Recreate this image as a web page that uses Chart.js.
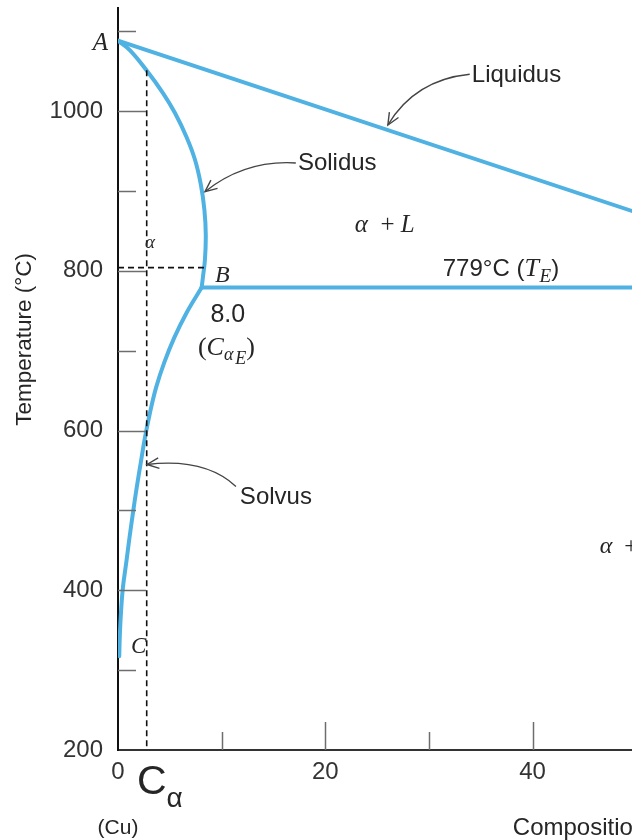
<!DOCTYPE html>
<html><head><meta charset="utf-8">
<script src="https://cdn.jsdelivr.net/npm/chart.js@4/dist/chart.umd.min.js"></script>
<style>html,body{margin:0;padding:0;background:#fff;overflow:hidden}canvas{display:block}</style>
</head><body>
<canvas id="c" width="632" height="840"></canvas>
<script>
// ---- data (composition wt% Ag, temperature °C) ----
const liquidusComp = [0, 71.9];
const liquidusTemp = [1088, 779];
const solidusComp = [0, 1.16, 2.75, 4.34, 5.50, 6.61, 7.43, 8.00, 8.34, 8.47, 8.39, 8.20, 8.07];
const solidusTemp = [1088, 1076, 1051, 1022.5, 997.5, 967.5, 939, 907.5, 876, 845, 814, 792.5, 779];
const solvusComp = [8.07, 6.62, 5.42, 4.46, 3.68, 3.09, 2.60, 2.20, 1.81, 1.45, 1.11, 0.80, 0.48, 0.29, 0.17, 0.12];
const solvusTemp = [779, 747.5, 716, 685, 654, 622.5, 591, 560, 529, 497.5, 466, 435, 404, 372.5, 341, 317.5];
const eutecticComp = [8.07, 71.9];
const eutecticTemp = [779, 779];
const dashVComp = [2.77, 2.77];
const dashVTemp = [1051, 200];
const dashHComp = [0, 8.45];
const dashHTemp = [804, 804];
const xMin = 0, xMax = 49.6, xStep = 10;
const yMin = 200, yMax = 1129, yStep = 100;
const xLabelValues = [0, 20, 40];
const yLabelValues = [200, 400, 600, 800, 1000];
// annotation arrows: [start, control, tip] in data units
const liquidusArrow = [[33.94, 1046], [28.64, 1039], [26.04, 982.5]];
const solidusArrow = [[17.16, 935], [12.25, 939], [8.39, 899]];
const solvusArrow = [[11.38, 530], [8.39, 566], [2.80, 557.5]];

const pts = (xs, ys) => xs.map((v, i) => ({x: v, y: ys[i]}));
const BLUE = '#4FB2E3';
const SERIF_I = s => 'italic ' + s + 'px "Liberation Serif"';
const SERIF = s => s + 'px "Liberation Serif"';
const SANS = s => s + 'px "Liberation Sans"';
const TXT = '#262626';

function runs(ctx, x, y, parts) {
  ctx.textAlign = 'left'; ctx.textBaseline = 'alphabetic';
  for (const [t, f, dy] of parts) {
    ctx.font = f; ctx.fillText(t, x, y + (dy || 0)); x += ctx.measureText(t).width;
  }
}

const annot = {
  id: 'annot',
  afterDatasetsDraw(chart) {
    const {ctx, chartArea: ca, scales: {x, y}} = chart;
    const P = (c, t) => [x.getPixelForValue(c), y.getPixelForValue(t)];
    ctx.save();
    // inward tick marks
    ctx.strokeStyle = '#6d6d6d'; ctx.lineWidth = 1.5;
    y.ticks.forEach(t => {
      if (t.value === yMin) return;
      const py = Math.round(y.getPixelForValue(t.value)) + 0.5;
      const len = yLabelValues.includes(t.value) ? 28 : 18;
      ctx.beginPath(); ctx.moveTo(ca.left, py); ctx.lineTo(ca.left + len, py); ctx.stroke();
    });
    x.ticks.forEach(t => {
      if (t.value === xMin) return;
      const pxv = Math.round(x.getPixelForValue(t.value)) + 0.5;
      const len = xLabelValues.includes(t.value) ? 28 : 18;
      ctx.beginPath(); ctx.moveTo(pxv, ca.bottom); ctx.lineTo(pxv, ca.bottom - len); ctx.stroke();
    });
    // arrows
    ctx.strokeStyle = '#444'; ctx.lineWidth = 1.4;
    [liquidusArrow, solidusArrow, solvusArrow].forEach(a => {
      const [s, c, e] = a.map(p => P(p[0], p[1]));
      ctx.beginPath(); ctx.moveTo(s[0], s[1]); ctx.quadraticCurveTo(c[0], c[1], e[0], e[1]); ctx.stroke();
      const ang = Math.atan2(e[1] - c[1], e[0] - c[0]);
      const L = 13, w = 0.42;
      ctx.beginPath();
      ctx.moveTo(e[0] - L * Math.cos(ang - w), e[1] - L * Math.sin(ang - w));
      ctx.lineTo(e[0], e[1]);
      ctx.lineTo(e[0] - L * Math.cos(ang + w), e[1] - L * Math.sin(ang + w));
      ctx.stroke();
    });
    ctx.fillStyle = TXT;
    // simple labels
    let p;
    ctx.textBaseline = 'middle';
    p = P(-0.96, 1085); ctx.textAlign = 'right'; ctx.font = SERIF_I(25); ctx.fillText('A', p[0], p[1]);
    ctx.textAlign = 'center';
    p = P(3.09, 835); ctx.font = SERIF_I(19); ctx.fillText('α', p[0], p[1]);
    p = P(2.0, 329); ctx.font = SERIF_I(23); ctx.fillText('C', p[0], p[1]);
    p = P(10.6, 745); ctx.font = SANS(25); ctx.fillText('8.0', p[0], p[1]);
    ctx.textAlign = 'left';
    p = P(9.35, 794); ctx.font = SERIF_I(24); ctx.fillText('B', p[0], p[1]);
    p = P(34.14, 1045); ctx.font = SANS(24); ctx.fillText('Liquidus', p[0], p[1]);
    p = P(17.36, 935); ctx.font = SANS(24); ctx.fillText('Solidus', p[0], p[1]);
    p = P(11.76, 516); ctx.font = SANS(24); ctx.fillText('Solvus', p[0], p[1]);
    // rich labels
    p = P(7.71, 695);
    runs(ctx, p[0], p[1], [['(', SERIF(26)], ['C', SERIF_I(26)], ['α', SERIF_I(18), 5], [' ', SERIF(8)], ['E', SERIF_I(18), 9], [')', SERIF(26)]]);
    p = P(22.85, 857.5);
    runs(ctx, p[0], p[1] + 7, [['α', SERIF_I(25)], ['  + ', SERIF(25)], ['L', SERIF_I(25)]]);
    p = P(31.34, 794);
    runs(ctx, p[0], p[1], [['779°C (', SANS(24)], ['T', SERIF_I(26)], [' ', SERIF(3)], ['E', SERIF_I(19), 6], [')', SANS(24)]]);
    p = P(46.48, 455);
    runs(ctx, p[0], p[1] + 7, [['α', SERIF_I(24)], ['  + β', SERIF(24)]]);
    // below-axis texts
    p = P(1.83, 0);
    runs(ctx, p[0], ca.bottom + 44, [['C', SANS(41)], ['α', SANS(28), 13]]);
    ctx.textAlign = 'center'; ctx.textBaseline = 'middle'; ctx.font = SANS(21);
    ctx.fillText('(Cu)', x.getPixelForValue(0), ca.bottom + 78);
    ctx.textAlign = 'left'; ctx.font = SANS(24);
    ctx.fillText('Composition (wt% Ag)', x.getPixelForValue(38.1), ca.bottom + 78);
    // y title
    ctx.save();
    ctx.translate(ca.left - 93, y.getPixelForValue(714));
    ctx.rotate(-Math.PI / 2);
    ctx.textAlign = 'center'; ctx.textBaseline = 'middle'; ctx.font = SANS(22.5);
    ctx.fillText('Temperature (°C)', 0, 0);
    ctx.restore();
    ctx.restore();
  }
};

const lineDs = (data, extra) => Object.assign({
  data, showLine: true, borderColor: BLUE, borderWidth: 4, pointRadius: 0,
  fill: false, borderCapStyle: 'round', borderJoinStyle: 'round', tension: 0
}, extra || {});

new Chart(document.getElementById('c'), {
  type: 'scatter',
  data: {
    datasets: [
      lineDs(pts(dashVComp, dashVTemp), {borderColor: '#111', borderWidth: 1.6, borderDash: [6, 4], borderCapStyle: 'butt'}),
      lineDs(pts(dashHComp, dashHTemp), {borderColor: '#111', borderWidth: 1.6, borderDash: [6, 4], borderCapStyle: 'butt'}),
      lineDs(pts(liquidusComp, liquidusTemp)),
      lineDs(pts(solidusComp, solidusTemp), {tension: 0.4}),
      lineDs(pts(solvusComp, solvusTemp), {tension: 0.4}),
      lineDs(pts(eutecticComp, eutecticTemp))
    ]
  },
  options: {
    responsive: false, animation: false, devicePixelRatio: 1,
    layout: {padding: {top: 8, left: 0, right: 0, bottom: 0}},
    plugins: {legend: {display: false}, tooltip: {enabled: false}},
    scales: {
      x: {
        type: 'linear', min: xMin, max: xMax,
        afterFit: s => { s.height = 90; s.paddingLeft = 0; s.paddingRight = 0; },
        grid: {display: true, drawOnChartArea: false, drawTicks: false},
        border: {display: true, color: '#333', width: 2},
        ticks: {stepSize: xStep, includeBounds: false, autoSkip: false, maxRotation: 0, padding: 8,
          color: '#333', font: {family: 'Liberation Sans', size: 24},
          callback: v => xLabelValues.includes(v) ? String(v) : ''}
      },
      y: {
        type: 'linear', min: yMin, max: yMax,
        afterFit: s => { s.width = 118; s.paddingTop = 0; s.paddingBottom = 0; },
        grid: {display: true, drawOnChartArea: false, drawTicks: false},
        border: {display: true, color: '#111', width: 2},
        ticks: {stepSize: yStep, includeBounds: false, autoSkip: false, padding: 15,
          color: '#333', font: {family: 'Liberation Sans', size: 24},
          callback: v => yLabelValues.includes(v) ? String(v) : ''}
      }
    }
  },
  plugins: [annot]
});
</script>
</body></html>
